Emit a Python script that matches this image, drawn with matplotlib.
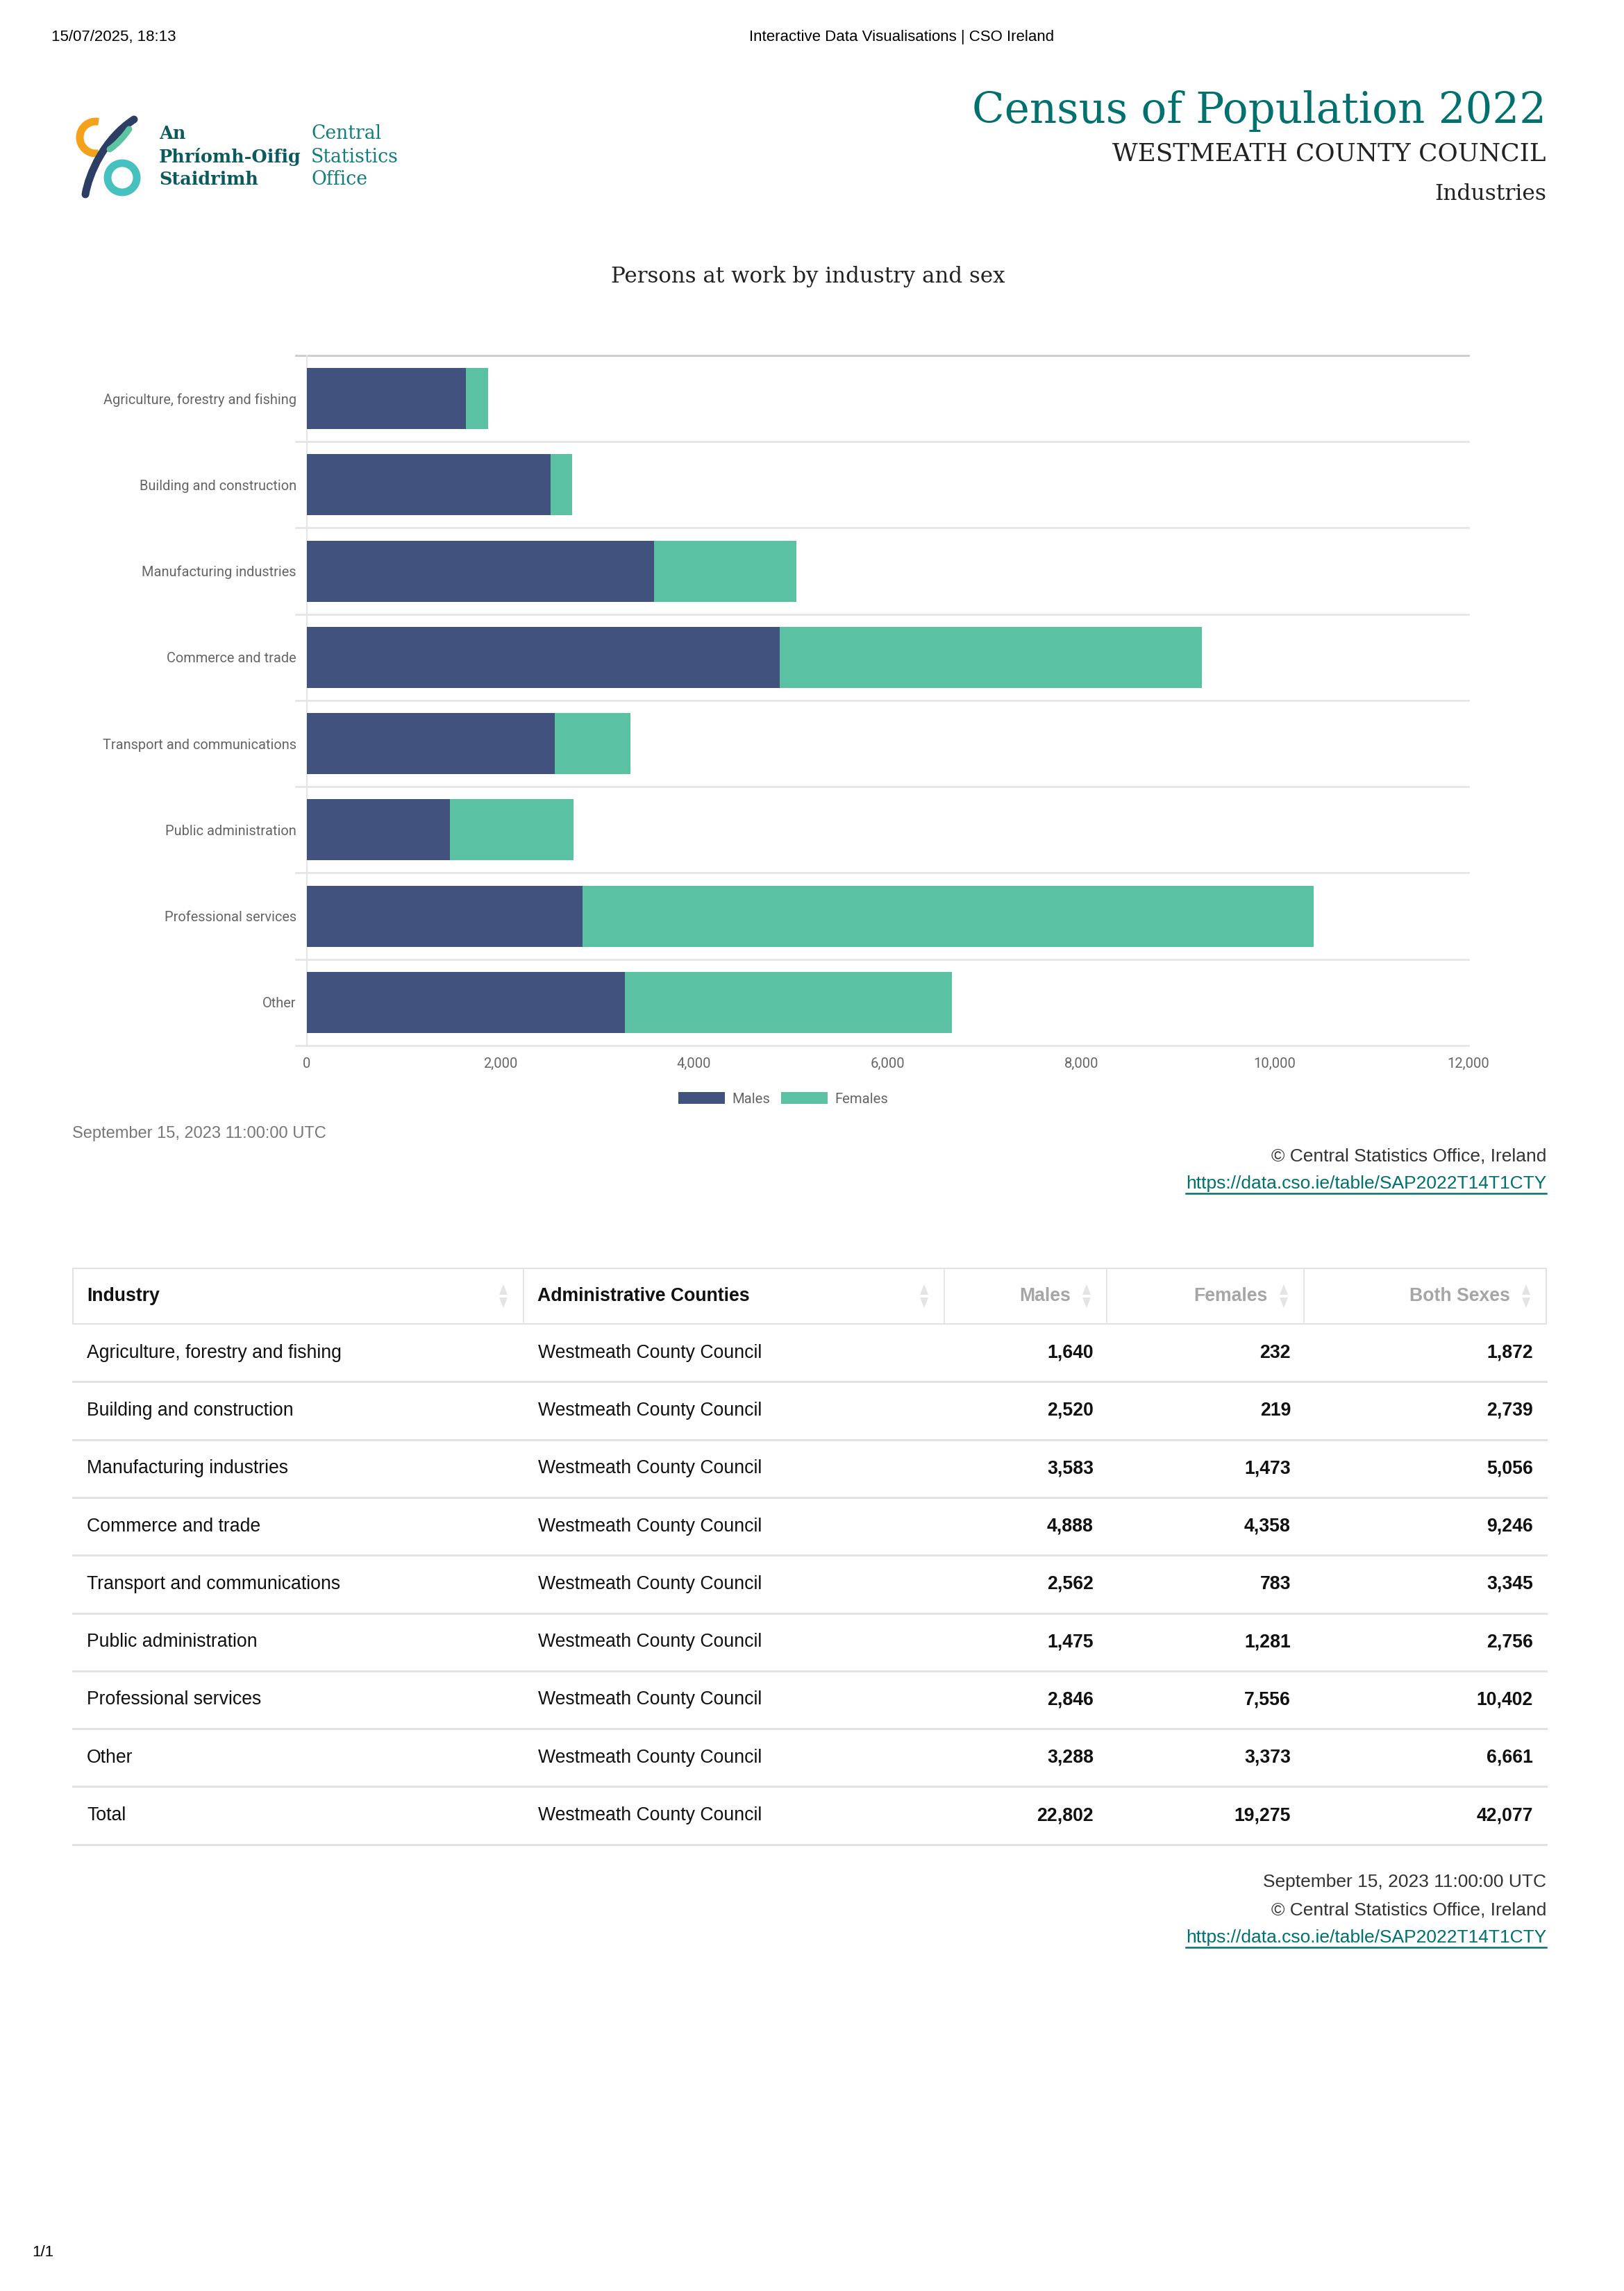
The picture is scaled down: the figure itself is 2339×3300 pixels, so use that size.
import matplotlib.pyplot as plt
import numpy as np
from matplotlib.patches import Arc, Circle, PathPatch, Polygon, Rectangle
from matplotlib.path import Path
from matplotlib.ticker import FuncFormatter

# data
industries = ['Agriculture, forestry and fishing', 'Building and construction',
              'Manufacturing industries', 'Commerce and trade',
              'Transport and communications', 'Public administration',
              'Professional services', 'Other']
males = [1640, 2520, 3583, 4888, 2562, 1475, 2846, 3288]
females = [232, 219, 1473, 4358, 783, 1281, 7556, 3373]
both = [1872, 2739, 5056, 9246, 3345, 2756, 10402, 6661]
total_row = ['Total', 22802, 19275, 42077]
county = 'Westmeath County Council'
x_ticks = [0, 2000, 4000, 6000, 8000, 10000, 12000]

W, H = 2339, 3300
DPI = 200
C_MALE = '#41527f'
C_FEMALE = '#5bc1a3'
TEAL = '#00716f'
RIGHT = 2227

fig = plt.figure(figsize=(W / DPI, H / DPI), dpi=DPI)

# page overlay in pixel coords
bg = fig.add_axes([0, 0, 1, 1])
bg.set_xlim(0, W)
bg.set_ylim(H, 0)
bg.axis('off')

sans = 'Liberation Sans'
serif = 'DejaVu Serif'

bg.text(74, 53, '15/07/2025, 18:13', fontsize=8, family=sans, va='center')
bg.text(1299, 53, 'Interactive Data Visualisations | CSO Ireland', fontsize=8,
        family=sans, va='center', ha='center')
bg.text(46, 3244, '1/1', fontsize=8, family=sans, va='center')

# header block
bg.text(RIGHT, 160, 'Census of Population 2022', fontsize=22, family=serif,
        color=TEAL, ha='right', va='center')
bg.text(RIGHT, 221, 'WESTMEATH COUNTY COUNCIL', fontsize=12.9, family=serif,
        color='#222222', ha='right', va='center')
bg.text(RIGHT, 279, 'Industries', fontsize=11.3, family=serif,
        color='#222222', ha='right', va='center')

# logo (rough shapes)
px = 72 / DPI
bg.add_patch(Arc((138, 198), 46, 46, theta1=80, theta2=280, color='#f5a21b', lw=11 * px))
bg.add_patch(Circle((176, 256), 21, fill=False, ec='#47c1bf', lw=11 * px))
s_path = Path([(193, 172), (150, 200), (128, 250), (123, 280)],
              [Path.MOVETO, Path.CURVE4, Path.CURVE4, Path.CURVE4])
bg.add_patch(PathPatch(s_path, fill=False, ec='#2c3e63', lw=11 * px, capstyle='round'))
m_path = Path([(186, 186), (173, 205), (158, 215)], [Path.MOVETO, Path.CURVE3, Path.CURVE3])
bg.add_patch(PathPatch(m_path, fill=False, ec='#5cc5a0', lw=9 * px, capstyle='round'))
for i, s in enumerate(['An', 'Phríomh-Oifig', 'Staidrimh']):
    bg.text(229, 193 + i * 33, s, fontsize=9.2, family=serif, weight='bold',
            color='#0d5a5c', va='center')
for i, s in enumerate(['Central', 'Statistics', 'Office']):
    bg.text(448, 193 + i * 33, s, fontsize=9.6, family=serif,
            color='#127d7b', va='center')

# chart title
bg.text(1164, 399, 'Persons at work by industry and sex', fontsize=11.1, family=serif,
        color='#222222', ha='center', va='center')

# bar chart
x0, x1, y0, y1 = 442, 2115, 512, 1506
ax = fig.add_axes([x0 / W, 1 - y1 / H, (x1 - x0) / W, (y1 - y0) / H])
ax.set_facecolor('none')
ypos = np.arange(len(industries))
ax.barh(ypos, males, height=0.71, color=C_MALE, label='Males', zorder=3)
ax.barh(ypos, females, left=males, height=0.71, color=C_FEMALE, label='Females', zorder=3)
ax.set_xlim(0, 12000)
ax.set_ylim(len(industries) - 0.5, -0.5)
ax.set_yticks(ypos)
ax.set_yticklabels(industries, fontsize=7.2, family='Roboto', color='#666666')
ax.set_xticks(x_ticks)
ax.xaxis.set_major_formatter(FuncFormatter(lambda v, p: f'{int(v):,}'))
for lab in ax.get_xticklabels():
    lab.set_family('Roboto')
    lab.set_fontsize(7.3)
    lab.set_color('#666666')
ax.tick_params(axis='both', length=0)
ax.tick_params(axis='x', pad=6)
ax.tick_params(axis='y', pad=5.5)
for b in np.arange(-0.5, len(industries), 1.0):
    ax.axhline(b, color='#e6e6e6', lw=1.0, zorder=1, clip_on=False,
               xmin=-16 / (x1 - x0))
ax.axhline(-0.5, color='#cccccc', lw=1.0, zorder=2, clip_on=False, xmin=-16 / (x1 - x0))
for sp in ['top', 'right', 'bottom']:
    ax.spines[sp].set_visible(False)
ax.spines['left'].set_color('#e6e6e6')
ax.spines['left'].set_linewidth(0.8)
leg = ax.legend(loc='center', bbox_to_anchor=(1128 / W, 1 - 1583 / H),
                bbox_transform=fig.transFigure, ncol=2, frameon=False,
                prop={'family': 'Roboto', 'size': 7.3}, handlelength=3.3,
                handleheight=0.9, handletextpad=0.5, columnspacing=0.8)
for t in leg.get_texts():
    t.set_color('#666666')

bg.text(104, 1633, 'September 15, 2023 11:00:00 UTC', fontsize=8.5, family=sans,
        color='#777777', va='center')

renderer = fig.canvas.get_renderer()


def link(x, y, s):
    t = bg.text(x, y, s, fontsize=9.5, family=sans, color='#00716f', ha='right', va='center')
    bb = t.get_window_extent(renderer)
    xa = bb.x0
    bg.plot([xa, x], [y + 14, y + 14], color='#00716f', lw=0.9)


bg.text(RIGHT, 1665, '© Central Statistics Office, Ireland', fontsize=9.5, family=sans,
        color='#333333', ha='right', va='center')
link(RIGHT, 1705, 'https://data.cso.ie/table/SAP2022T14T1CTY')

# table
cols = [105, 754, 1360, 1594, 1878, RIGHT]
top, head_bot, row_h = 1827, 1907, 83.3
headers = ['Industry', 'Administrative Counties', 'Males', 'Females', 'Both Sexes']
bg.add_patch(Rectangle((cols[0], top), cols[-1] - cols[0], head_bot - top, fill=False,
                       ec='#dddddd', lw=0.6))
for c in cols[1:-1]:
    bg.plot([c, c], [top, head_bot], color='#e2e2e2', lw=0.6)
hy = (top + head_bot) / 2
for i, h in enumerate(headers):
    ax_r = cols[i + 1] - 29
    if i < 2:
        bg.text(cols[i] + 20, hy, h, fontsize=9.6, family=sans, weight='bold',
                color='#111111', va='center')
    else:
        bg.text(ax_r - 23, hy, h, fontsize=9.6, family=sans, weight='bold',
                color='#a6a6a6', ha='right', va='center')
    bg.add_patch(Polygon([(ax_r - 6, hy - 2), (ax_r + 6, hy - 2), (ax_r, hy - 17)],
                         color='#e4e4e4', lw=0))
    bg.add_patch(Polygon([(ax_r - 6, hy + 2), (ax_r + 6, hy + 2), (ax_r, hy + 17)],
                         color='#e4e4e4', lw=0))

rows = [[n, m, f, b] for n, m, f, b in zip(industries, males, females, both)] + [total_row]
for r, row in enumerate(rows):
    yc = head_bot + row_h * (r + 0.5)
    bg.text(cols[0] + 20, yc, row[0], fontsize=9.6, family=sans, color='#111111', va='center')
    bg.text(cols[1] + 21, yc, county, fontsize=9.6, family=sans, color='#111111', va='center')
    for k in range(3):
        bg.text(cols[k + 3] - 19, yc, f'{row[k + 1]:,}', fontsize=9.6, family=sans,
                weight='bold', color='#111111', ha='right', va='center')
    yl = head_bot + row_h * (r + 1)
    bg.plot([cols[0], cols[-1]], [yl, yl], color='#e3e3e6', lw=1.1)

bg.text(RIGHT, 2711, 'September 15, 2023 11:00:00 UTC', fontsize=9.5, family=sans,
        color='#333333', ha='right', va='center')
bg.text(RIGHT, 2751, '© Central Statistics Office, Ireland', fontsize=9.5, family=sans,
        color='#333333', ha='right', va='center')
link(RIGHT, 2791, 'https://data.cso.ie/table/SAP2022T14T1CTY')

fig.savefig('out.png', dpi=DPI)
